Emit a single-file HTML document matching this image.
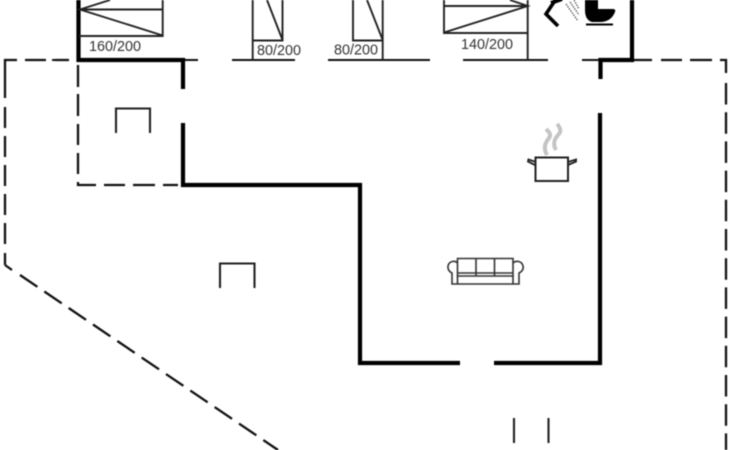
<!DOCTYPE html>
<html>
<head>
<meta charset="utf-8">
<style>
html,body{margin:0;padding:0;background:#fff;width:730px;height:450px;overflow:hidden}
svg{display:block}
text{font-family:"Liberation Sans",sans-serif;font-size:14.4px;fill:#333}
</style>
</head>
<body>
<svg width="730" height="450" viewBox="0 0 730 450" xmlns="http://www.w3.org/2000/svg">
<g fill="none" stroke-linecap="butt" style="filter:blur(0.4px)">
  <!-- outer dashed -->
  <g stroke="#111" stroke-width="2.300">
    <path d="M69 60H55M46 60H25M17 60H5V78"/>
    <path d="M5 78V98M5 107V128M5 136V157M5 165V186M5 194V215M5 223V244M5 253V265"/>
    <path d="M5 265L12 270" />
    <path d="M20 275L278 450" stroke-dasharray="21 8.4"/>
    <path d="M633 60H652M661 60H682M690 60H712M720 60H726V73"/>
    <path d="M726 83L726 450" stroke-dasharray="21.5 7.7"/>
    <!-- inner dashed -->
    <path d="M78 65V87M78 94V116M78 124V145M78 153V174M78 182V185H96M104 185H125M133 185H155M163 185H178"/>
  </g>
  <!-- thin floor lines -->
  <g stroke="#111" stroke-width="2">
    <path d="M52 60H68M183 60H198M232 60H295M328 60H430M463 60H548M582 60H600"/>
  </g>
  <!-- thick walls -->
  <g stroke="#000" stroke-width="4.200">
    <path d="M78.500 0V60H183V89"/>
    <path d="M183 123V185H360V363H460"/>
    <path d="M494 363H600V113"/>
    <path d="M600.500 79V60H632V0"/>
  </g>
  <!-- door frames -->
  <g stroke="#222" stroke-width="2.100">
    <path d="M116 133V108.500H150V133"/>
    <path d="M220 288V263.500H254.500V288"/>
    <path d="M514 418V443M548.500 418V443"/>
  </g>
  <!-- beds -->
  <g stroke="#222" stroke-width="1.900">
    <path d="M79 9.500H162.700M79 36H162.700V0"/>
    <path d="M110 0L80 9.500L162.700 35.500"/>
    <path d="M252.700 0V60M252.700 40.500H282.500V0"/>
    <path d="M267 0L282.500 40"/>
    <path d="M353 0V40.500H382.700M382.700 0V60"/>
    <path d="M367 0L382.700 40"/>
    <path d="M444 0V33H527.700M444 6H527.700M527.700 0V60"/>
    <path d="M444 32.500L527.700 6L510 0"/>
  </g>
  <!-- shower -->
  <path d="M556 -1L546 14L558 26" stroke="#000" stroke-width="3.600"/>
  <path d="M551 3L562 -1" stroke="#000" stroke-width="4"/>
  <g stroke="#555" stroke-width="1.300" stroke-dasharray="1.500 1.100">
    <path d="M566 4L578 21M570 2L579 15M574 0L579 9"/>
  </g>
  <!-- toilet -->
  <path d="M585 0H598V9H613Q616 9 615 12Q611 22 600 22H592Q585 20 585 10Z" fill="#000" stroke="none"/>
  <path d="M586 24.500H613" stroke="#000" stroke-width="2"/>
  <!-- pot -->
  <rect x="535.500" y="157.500" width="32.500" height="23.500" stroke="#222" stroke-width="2"/>
  <path d="M535 165L528 161.500L528.500 159.500L536 162M568 165L576 161.500L576 159.500L568 162" stroke="#222" stroke-width="1.900"/>
  <!-- steam -->
  <path d="M547 155C543 148 545 143 549 138C552 134 548 131 546 129" stroke="#c4c4c4" stroke-width="4"/>
  <path d="M556 150C552 143 555 138 559 134C562 130 559 126 557 124" stroke="#c4c4c4" stroke-width="4"/>
  <!-- sofa -->
  <g stroke="#333" stroke-width="1.600">
    <path d="M457.500 258.500H513V276H457.500ZM476 258.500V276M494.500 258.500V276M457.500 273H513"/>
    <path d="M457.500 263C455 260 449 261 448 266C447.500 270 450 272 452 273V284H519V273C521 272 524 270 523 266C522 261 516 260 513 263"/>
    <path d="M457.500 276V284M513 276V284"/>
  </g>
  <!-- labels -->
  <g stroke="none">
    <text x="89" y="51">160/200</text>
    <text x="257" y="55">80/200</text>
    <text x="334" y="54.500">80/200</text>
    <text x="461" y="49">140/200</text>
  </g>
</g>
</svg>
</body>
</html>
